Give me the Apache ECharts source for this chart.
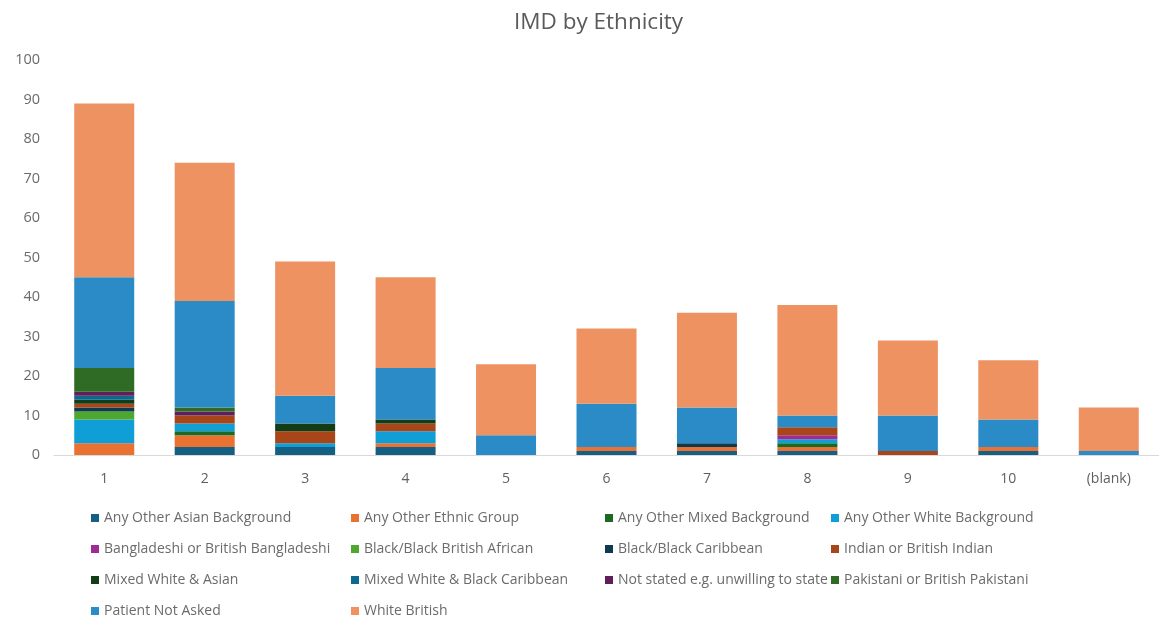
<!DOCTYPE html>
<html>
<head>
<meta charset="utf-8">
<title>IMD by Ethnicity</title>
<script src="https://cdn.jsdelivr.net/npm/echarts@6/dist/echarts.min.js"></script>
<style>
  html, body { margin: 0; padding: 0; background: #fff; }
  #chart { width: 1159px; height: 620px; }
</style>
</head>
<body>
<div id="chart"></div>
<script>
// categories (IMD decile)
const categories = ['1', '2', '3', '4', '5', '6', '7', '8', '9', '10', '(blank)'];
const yTicks = [0, 10, 20, 30, 40, 50, 60, 70, 80, 90, 100];

// series values, bottom of stack first
const anyOtherAsian      = [0, 2, 2, 2, 0, 1, 1, 1, 0, 1, 0];
const anyOtherEthnic     = [3, 3, 0, 1, 0, 1, 1, 1, 0, 1, 0];
const anyOtherMixed      = [0, 1, 0, 0, 0, 0, 0, 1, 0, 0, 0];
const anyOtherWhite      = [6, 2, 1, 3, 0, 0, 0, 1, 0, 0, 0];
const bangladeshi        = [0, 0, 0, 0, 0, 0, 0, 1, 0, 0, 0];
const blackAfrican       = [2, 0, 0, 0, 0, 0, 0, 0, 0, 0, 0];
const blackCaribbean     = [1, 0, 0, 0, 0, 0, 1, 0, 0, 0, 0];
const indian             = [1, 2, 3, 2, 0, 0, 0, 2, 1, 0, 0];
const mixedWhiteAsian    = [1, 0, 2, 1, 0, 0, 0, 0, 0, 0, 0];
const mixedWhiteBlackCar = [1, 0, 0, 0, 0, 0, 0, 0, 0, 0, 0];
const notStated          = [1, 1, 0, 0, 0, 0, 0, 0, 0, 0, 0];
const pakistani          = [6, 1, 0, 0, 0, 0, 0, 0, 0, 0, 0];
const patientNotAsked    = [23, 27, 7, 13, 5, 11, 9, 3, 9, 7, 1];
const whiteBritish       = [44, 35, 34, 23, 18, 19, 24, 28, 19, 15, 11];

const groups = [
  { name: 'Any Other Asian Background', data: anyOtherAsian, color: '#156082' },
  { name: 'Any Other Ethnic Group', data: anyOtherEthnic, color: '#E97132' },
  { name: 'Any Other Mixed Background', data: anyOtherMixed, color: '#196B24' },
  { name: 'Any Other White Background', data: anyOtherWhite, color: '#0F9ED5' },
  { name: 'Bangladeshi or British Bangladeshi', data: bangladeshi, color: '#A02B93' },
  { name: 'Black/Black British African', data: blackAfrican, color: '#4EA72E' },
  { name: 'Black/Black Caribbean', data: blackCaribbean, color: '#0E3A4F' },
  { name: 'Indian or British Indian', data: indian, color: '#A8461A' },
  { name: 'Mixed White & Asian', data: mixedWhiteAsian, color: '#123D16' },
  { name: 'Mixed White & Black Caribbean', data: mixedWhiteBlackCar, color: '#0E6A8C' },
  { name: 'Not stated e.g. unwilling to state', data: notStated, color: '#5E1F5A' },
  { name: 'Pakistani or British Pakistani', data: pakistani, color: '#2F6B25' },
  { name: 'Patient Not Asked', data: patientNotAsked, color: '#2A8BC6' },
  { name: 'White British', data: whiteBritish, color: '#EE9262' }
];

const chart = echarts.init(document.getElementById('chart'));

// legend laid out as 4 columns, like the original
const colLeft = [86, 346, 600, 826];
const legends = colLeft.map((x, c) => ({
  orient: 'vertical',
  left: x,
  top: 506,
  height: 140,
  itemGap: 17,
  itemWidth: 8,
  itemHeight: 8,
  icon: 'rect',
  textStyle: { color: '#6b6b6b', fontSize: 14, fontFamily: 'Open Sans' },
  data: groups.filter((g, i) => i % 4 === c).map(g => g.name)
}));

const option = {
  animation: false,
  backgroundColor: '#fff',
  title: {
    text: 'IMD by Ethnicity',
    left: 509,
    top: 6,
    textStyle: { color: '#5a5a5a', fontSize: 22.5, fontWeight: 'normal', fontFamily: 'Open Sans' }
  },
  legend: legends,
  grid: { left: 54, top: 60, width: 1116, height: 395 },
  xAxis: {
    type: 'category',
    data: categories,
    axisTick: { show: false },
    axisLine: { lineStyle: { color: '#d9d9d9', width: 1 } },
    axisLabel: { color: '#5f5f5f', fontSize: 14, margin: 17, fontFamily: 'Open Sans' }
  },
  yAxis: {
    type: 'value',
    min: yTicks[0],
    max: yTicks[yTicks.length - 1],
    interval: 10,
    splitLine: { show: false },
    axisLine: { show: false },
    axisTick: { show: false },
    axisLabel: { color: '#6b6b6b', fontSize: 14.5, margin: 14, fontFamily: 'Open Sans' }
  },
  series: groups.map(g => ({
    name: g.name,
    type: 'bar',
    stack: 'total',
    barWidth: 60,
    itemStyle: { color: g.color },
    data: g.data
  }))
};

chart.setOption(option);
</script>
</body>
</html>
